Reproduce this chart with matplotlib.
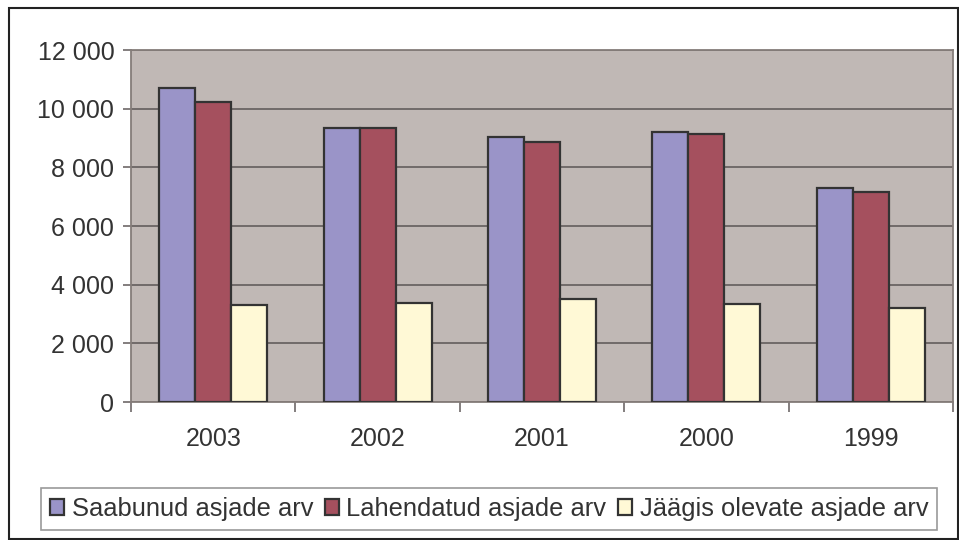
import matplotlib
matplotlib.use("Agg")
import matplotlib.pyplot as plt
import numpy as np
from matplotlib.patches import Rectangle
from matplotlib.ticker import FuncFormatter

years = ["2003", "2002", "2001", "2000", "1999"]
saabunud = [10700, 9340, 9030, 9200, 7290]
lahendatud = [10230, 9340, 8860, 9150, 7170]
jaagis = [3300, 3370, 3500, 3350, 3220]
series_names = ["Saabunud asjade arv", "Lahendatud asjade arv", "Jäägis olevate asjade arv"]
colors = ["#9A94C8", "#A5505E", "#FFF9D6"]
yticks = [0, 2000, 4000, 6000, 8000, 10000, 12000]

plt.rcParams['font.family'] = ['Liberation Sans', 'DejaVu Sans']
plt.rcParams['text.color'] = '#333333'
plt.rcParams['xtick.labelcolor'] = '#333333'
plt.rcParams['ytick.labelcolor'] = '#333333'

fig = plt.figure(figsize=(9.59, 5.4), dpi=100)
ax = fig.add_axes([131/959, 1-402/540, (953-131)/959, (402-50)/540])
ax.set_facecolor("#C0B8B5")

x = np.arange(len(years))
w = 0.219
for i, (vals, c, name) in enumerate(zip([saabunud, lahendatud, jaagis], colors, series_names)):
    ax.bar(x + (i-1)*w, vals, width=w, color=c, edgecolor="#333333", linewidth=1.6,
           label=name, zorder=3)

ax.set_xlim(-0.5, len(years)-0.5)
ax.set_ylim(0, 12000)
ax.set_yticks(yticks)
ax.yaxis.set_major_formatter(FuncFormatter(lambda v, p: f"{int(v):,}".replace(",", " ")))
ax.grid(axis="y", color="#6A6464", linewidth=1.3, zorder=1)
ax.set_xticks(x)
ax.set_xticklabels(years)
ax.tick_params(axis="x", length=0, labelsize=18, pad=18)
ax.set_xticks(np.arange(len(years)+1)-0.5, minor=True)
ax.tick_params(axis="x", which="minor", length=7, width=1.2, color="#6E6868", direction="out")
ax.tick_params(axis="y", length=6, width=1.2, color="#6E6868", labelsize=18, pad=6)
for s in ax.spines.values():
    s.set_color("#857D7A")
    s.set_linewidth(1.3)

leg = ax.legend(loc="center", bbox_to_anchor=(489/959, 1-509/540), bbox_transform=fig.transFigure,
                ncol=3, fontsize=18.4, frameon=True, fancybox=False, edgecolor="#808080",
                handlelength=0.55, handleheight=0.55, handletextpad=0.3, columnspacing=0.45,
                borderpad=0.35, borderaxespad=0)
leg.get_frame().set_linewidth(1.2)

fig.patches.append(Rectangle((9/959, 1/540), (958-9)/959, (532-1)/540, transform=fig.transFigure,
                             fill=False, edgecolor="#222222", linewidth=1.5))

fig.savefig("out.png", dpi=100)
